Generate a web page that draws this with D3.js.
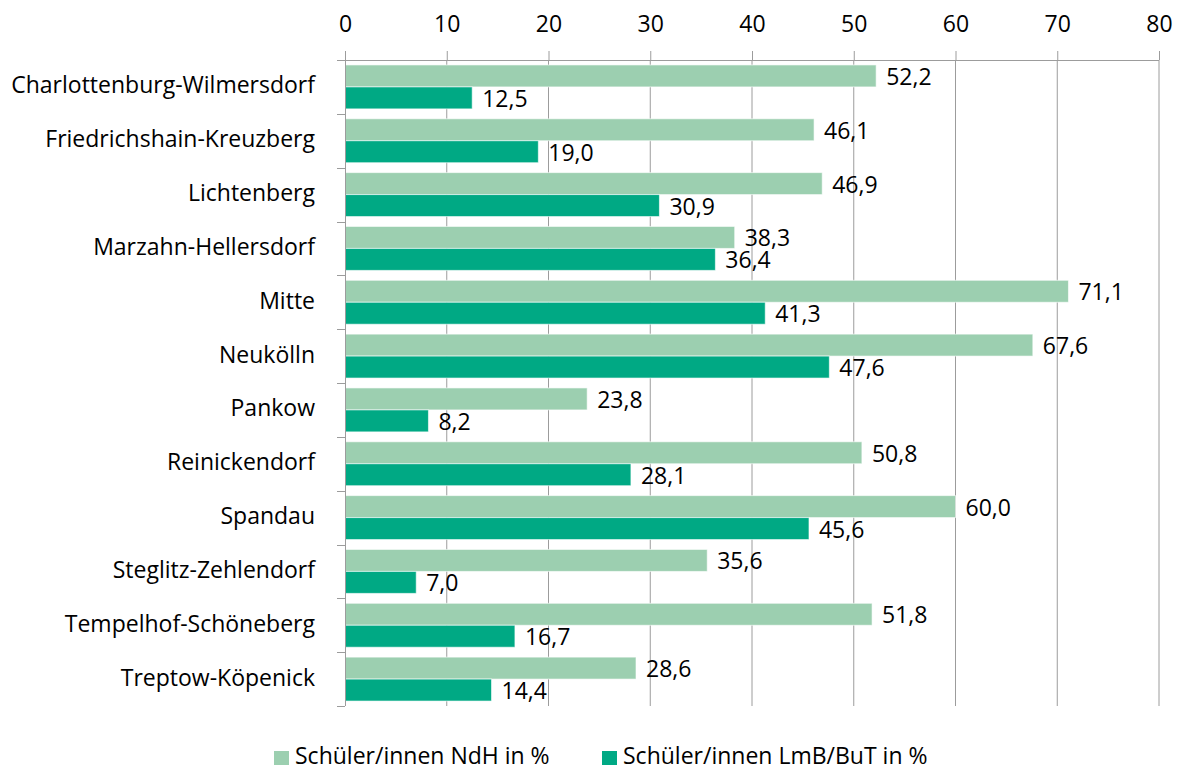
<!DOCTYPE html>
<html>
<head>
<meta charset="utf-8">
<script src="https://cdn.jsdelivr.net/npm/d3@7"></script>
<style>
  html, body { margin: 0; padding: 0; background: #fff; }
  svg { display: block; }
  text { font-family: "Open Sans", "Noto Sans", sans-serif; fill: #000; }
</style>
</head>
<body>
<svg id="chart" width="1180" height="771"></svg>
<script>
const categories = [
  "Charlottenburg-Wilmersdorf",
  "Friedrichshain-Kreuzberg",
  "Lichtenberg",
  "Marzahn-Hellersdorf",
  "Mitte",
  "Neukölln",
  "Pankow",
  "Reinickendorf",
  "Spandau",
  "Steglitz-Zehlendorf",
  "Tempelhof-Schöneberg",
  "Treptow-Köpenick"
];
const seriesNames = ["Schüler/innen NdH in %", "Schüler/innen LmB/BuT in %"];
const ndh = [52.2, 46.1, 46.9, 38.3, 71.1, 67.6, 23.8, 50.8, 60.0, 35.6, 51.8, 28.6];
const lmb = [12.5, 19.0, 30.9, 36.4, 41.3, 47.6, 8.2, 28.1, 45.6, 7.0, 16.7, 14.4];
const xTicks = [0, 10, 20, 30, 40, 50, 60, 70, 80];

const colors = ["#9ccfb0", "#00a984"];
const fmt = v => v.toFixed(1).replace(".", ",");
const FS = 23;

const svg = d3.select("#chart");
const margin = { left: 345, right: 21, top: 60, bottom: 65 };
const W = 1180, H = 771;
const x = d3.scaleLinear().domain([0, 80]).range([margin.left, W - margin.right]);
const y = d3.scaleBand().domain(categories).range([margin.top, H - margin.bottom])
  .paddingInner(0.184).paddingOuter(0.092);
const sub = d3.scaleBand().domain([0, 1]).range([0, y.bandwidth()]);

const gridColor = "#9c9c9c";

// vertical gridlines
svg.append("g").selectAll("line").data(xTicks.slice(1)).join("line")
  .attr("x1", d => x(d)).attr("x2", d => x(d))
  .attr("y1", margin.top).attr("y2", H - margin.bottom)
  .attr("stroke", gridColor).attr("stroke-width", 1);

// top axis
const xAxis = d3.axisTop(x).tickValues(xTicks).tickSize(9).tickSizeOuter(0).tickPadding(19)
  .tickFormat(d => d);
const gx = svg.append("g").attr("transform", `translate(0,${margin.top})`).call(xAxis);
gx.select(".domain").attr("stroke", gridColor).attr("d", `M${margin.left - 8},0.5H${W - margin.right}`);
gx.selectAll(".tick line").attr("stroke", gridColor);
gx.selectAll(".tick text").attr("font-size", FS).attr("font-family", "Open Sans").attr("fill", "#000");

// bars
const groups = svg.append("g").selectAll("g").data(categories).join("g")
  .attr("transform", d => `translate(0,${y(d)})`);
[ndh, lmb].forEach((vals, si) => {
  groups.append("rect")
    .attr("x", x(0))
    .attr("y", sub(si))
    .attr("width", (d, i) => x(vals[i]) - x(0))
    .attr("height", sub.bandwidth())
    .attr("fill", colors[si])
    .attr("stroke", "#ffffff").attr("stroke-opacity", 0.6).attr("stroke-width", 1);
  groups.append("text")
    .attr("x", (d, i) => x(vals[i]) + 10)
    .attr("y", sub(si) + sub.bandwidth() / 2 + 1)
    .attr("dy", "0.35em")
    .attr("font-size", FS)
    .text((d, i) => fmt(vals[i]));
});

// left axis
const step = y.step();
const bounds = d3.range(categories.length + 1).map(i => margin.top + i * step);
svg.append("line").attr("x1", x(0) + 0.5).attr("x2", x(0) + 0.5)
  .attr("y1", margin.top - 9).attr("y2", H - margin.bottom)
  .attr("stroke", gridColor);
svg.append("g").selectAll("line").data(bounds.slice(1)).join("line")
  .attr("x1", x(0) - 8).attr("x2", x(0))
  .attr("y1", d => Math.round(d) + 0.5).attr("y2", d => Math.round(d) + 0.5)
  .attr("stroke", gridColor);
svg.append("g").selectAll("text").data(categories).join("text")
  .attr("x", x(0) - 30)
  .attr("y", d => y(d) + y.bandwidth() / 2)
  .attr("dy", "0.28em")
  .attr("text-anchor", "end")
  .attr("font-size", FS)
  .text(d => d);

// legend
const legendItems = [{ name: seriesNames[0], x: 274, c: colors[0] }, { name: seriesNames[1], x: 602, c: colors[1] }];
const lg = svg.append("g").selectAll("g").data(legendItems).join("g")
  .attr("transform", d => `translate(${d.x},751)`);
lg.append("rect").attr("width", 15).attr("height", 14).attr("fill", d => d.c);
lg.append("text").attr("x", 21).attr("y", 13).attr("font-size", FS).text(d => d.name);
</script>
</body>
</html>
